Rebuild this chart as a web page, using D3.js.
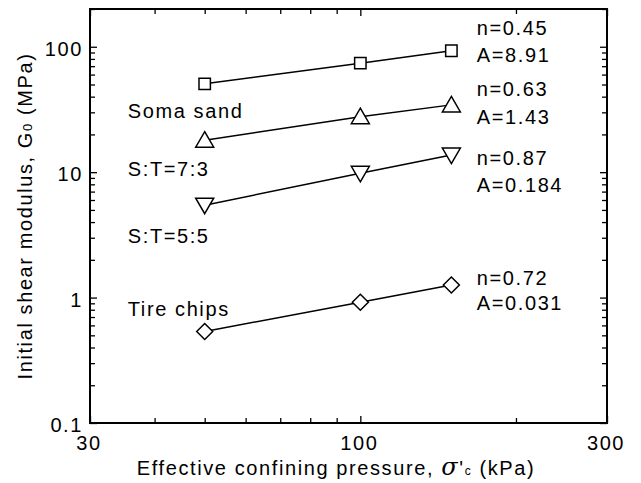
<!DOCTYPE html>
<html>
<head>
<meta charset="utf-8">
<script src="https://cdn.jsdelivr.net/npm/d3@7"></script>
<style>
  body { margin: 0; background: #fff; }
  svg text { font-family: "Liberation Sans", Arial, sans-serif; font-size: 20px; letter-spacing: 1.6px; fill: #000; }
</style>
</head>
<body>
<div class="chart"></div>
<script>
const WIDTH = 641;
const HEIGHT = 483;

const LEFT = 90, RIGHT = 607, TOP = 9, BOTTOM = 423;

// data
var pressures = [50, 100, 150];
var somaSand = [50.6, 74, 93];
var st73 = [18, 27.7, 34.4];
var st55 = [5.45, 9.8, 13.7];
var tireChips = [0.537, 0.917, 1.26];

var seriesNames = ["Soma sand", "S:T=7:3", "S:T=5:5", "Tire chips"];
var seriesSymbols = ["square", "triangleUp", "triangleDown", "diamond"];
var fitN = ["n=0.45", "n=0.63", "n=0.87", "n=0.72"];
var fitA = ["A=8.91", "A=1.43", "A=0.184", "A=0.031"];

// label anchors in data units: [x, y]
var nameAnchors = [[35.5, 27.2], [35.5, 9.25], [35.5, 2.7], [35.5, 0.716]];
var nAnchors = [[168, 124.7], [168, 40.2], [168, 11.5], [168, 1.26]];
var aAnchors = [[168, 75.5], [168, 24.3], [168, 7.0], [168, 0.79]];

var xMajor = [30, 100, 300];
var xMinor = [40, 50, 60, 70, 80, 90, 200];
var yMajor = [0.1, 1, 10, 100];
var yMinor = [];
[0.1, 1, 10].forEach(function (d) {
    for (var k = 2; k <= 9; k++) yMinor.push(+(d * k).toPrecision(3));
});
yMinor.push(200);

var allSeries = [somaSand, st73, st55, tireChips];

var _svg = d3.select('.chart').append('svg')
    .attr('width', WIDTH)
    .attr('height', HEIGHT);

var _xScale = d3.scaleLog().domain([30, 300]).range([LEFT, RIGHT]);
var _yScale = d3.scaleLog().domain([0.1, 200]).range([BOTTOM, TOP]);

var translate = function (x, y) {
    return "translate(" + x + "," + y + ")";
};

var styleAxis = function (g) {
    g.select('.domain').remove();
    g.selectAll('.tick line')
        .attr('stroke', '#000')
        .attr('stroke-width', 1.3);
    g.selectAll('.tick text').remove();
};

var generateAxes = function () {
    var allX = xMajor.concat(xMinor);
    var allY = yMajor.concat(yMinor);

    var tickLen = function (d, major, minorLen, majorLen) {
        return major.indexOf(d) >= 0 ? majorLen : minorLen;
    };

    // bottom and top
    var gb = _svg.append('g').attr('transform', translate(0, BOTTOM))
        .call(d3.axisBottom(_xScale).tickValues(allX).tickSize(0));
    styleAxis(gb);
    gb.selectAll('.tick line').attr('y2', function (d) { return -tickLen(d, xMajor, 5, 7); });

    var gt = _svg.append('g').attr('transform', translate(0, TOP))
        .call(d3.axisTop(_xScale).tickValues(allX).tickSize(0));
    styleAxis(gt);
    gt.selectAll('.tick line').attr('y2', function (d) { return tickLen(d, xMajor, 5, 7); });

    var gl = _svg.append('g').attr('transform', translate(LEFT, 0))
        .call(d3.axisLeft(_yScale).tickValues(allY).tickSize(0));
    styleAxis(gl);
    gl.selectAll('.tick line').attr('x2', function (d) { return tickLen(d, yMajor, 5, 7); });

    var gr = _svg.append('g').attr('transform', translate(RIGHT, 0))
        .call(d3.axisRight(_yScale).tickValues(allY).tickSize(0));
    styleAxis(gr);
    gr.selectAll('.tick line').attr('x2', function (d) { return -tickLen(d, yMajor, 5, 7); });

    // frame
    _svg.append('rect')
        .attr('x', LEFT).attr('y', TOP)
        .attr('width', RIGHT - LEFT).attr('height', BOTTOM - TOP)
        .attr('fill', 'none').attr('stroke', '#000').attr('stroke-width', 2);

    // tick labels
    _svg.selectAll('.ylab').data(yMajor).enter().append('text')
        .attr('class', 'ylab')
        .attr('x', LEFT - 7)
        .attr('y', function (d) { return _yScale(d) + 9; })
        .attr('text-anchor', 'end')
        .text(function (d) { return d3.format('~g')(d); });

    _svg.selectAll('.xlab').data(xMajor).enter().append('text')
        .attr('class', 'xlab')
        .attr('x', function (d) { return _xScale(d) - 1; })
        .attr('y', 450)
        .attr('text-anchor', 'middle')
        .text(function (d) { return d; });

    // axis titles
    var xt = _svg.append('text')
        .attr('x', 336).attr('y', 475)
        .attr('text-anchor', 'middle');
    xt.append('tspan').text('Effective confining pressure, ');
    xt.append('tspan').style('font-family', '"DejaVu Serif", serif').style('font-size', '24px').style('font-style', 'italic').text('σ');
    xt.append('tspan').text("'");
    xt.append('tspan').style('font-size', '12px').text('c');
    xt.append('tspan').text(' (kPa)');

    var yt = _svg.append('text')
        .attr('transform', translate(32, (TOP + BOTTOM) / 2) + ' rotate(-90)')
        .attr('text-anchor', 'middle');
    yt.append('tspan').text('Initial shear modulus, G');
    yt.append('tspan').style('font-size', '13px').text('0');
    yt.append('tspan').text(' (MPa)');
};

var markerPath = function (type) {
    if (type === 'square') return 'M-5.7,-5.7H5.7V5.7H-5.7Z';
    if (type === 'triangleUp') return 'M0,-8.5L9,7L-9,7Z';
    if (type === 'triangleDown') return 'M0,8.5L9,-7L-9,-7Z';
    return 'M0,-8L8,0L0,8L-8,0Z';
};

var generateSeries = function () {
    var line = d3.line()
        .x(function (d, i) { return _xScale(pressures[i]); })
        .y(function (d) { return _yScale(d); });

    allSeries.forEach(function (vals, s) {
        _svg.append('path')
            .attr('d', line(vals))
            .attr('fill', 'none')
            .attr('stroke', '#000')
            .attr('stroke-width', 1.5);

        _svg.append('g').selectAll('path').data(vals).enter().append('path')
            .attr('transform', function (d, i) { return translate(_xScale(pressures[i]), _yScale(d)); })
            .attr('d', markerPath(seriesSymbols[s]))
            .attr('fill', '#fff')
            .attr('stroke', '#000')
            .attr('stroke-width', 1.5);
    });
};

var generateLabels = function () {
    var put = function (anchors, texts) {
        _svg.append('g').selectAll('text').data(texts).enter().append('text')
            .attr('x', function (d, i) { return _xScale(anchors[i][0]); })
            .attr('y', function (d, i) { return _yScale(anchors[i][1]); })
            .text(function (d) { return d; });
    };
    put(nameAnchors, seriesNames);
    put(nAnchors, fitN);
    put(aAnchors, fitA);
};

generateAxes();
generateSeries();
generateLabels();
</script>
</body>
</html>
